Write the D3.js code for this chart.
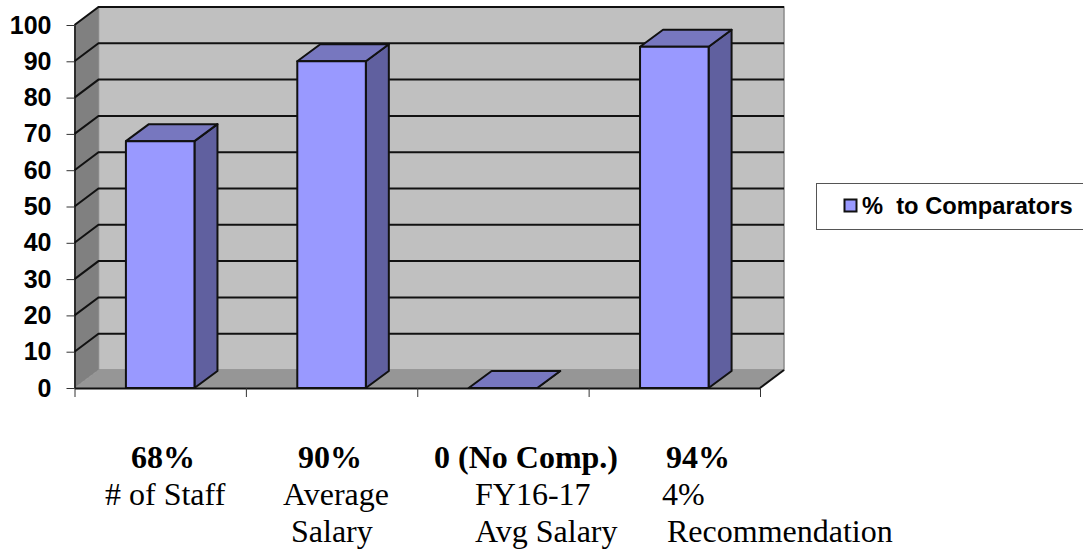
<!DOCTYPE html>
<html>
<head>
<meta charset="utf-8">
<script src="https://cdn.jsdelivr.net/npm/d3@7/dist/d3.min.js"></script>
<style>
  html, body { margin: 0; padding: 0; background: #fff; }
  svg { display: block; }
</style>
</head>
<body>
<svg id="chart" width="1083" height="552"></svg>
<script>
// Chart data
const categories = ["# of Staff", "Average Salary", "FY16-17 Avg Salary", "4% Recommendation"];
const values = [68, 90, 0, 94];
const yTicks = [0, 10, 20, 30, 40, 50, 60, 70, 80, 90, 100];
const seriesName = "%  to Comparators";
const headlineLabels = ["68%", "90%", "0 (No Comp.)", "94%"];
const captionLines = [["# of Staff"], ["Average", "Salary"], ["FY16-17", "Avg Salary"], ["4%", "Recommendation"]];

// Left edges of the caption block under each category
const headlineX = [131, 298, 434, 666];
const captionX = [[105], [283, 291], [475, 475], [662, 667]];

const svg = d3.select("#chart");

// Front plane of the pseudo-3D plot and its depth offset
const plotLeft = 74.5, plotRight = 760, plotBottom = 388, plotTop = 25;
const depthX = 24, depthY = -18;
const barDepthX = 23, barDepthY = -17;

const x = d3.scaleBand().domain(categories).range([plotLeft, plotRight]).paddingInner(0.6).paddingOuter(0.3);
const y = d3.scaleLinear().domain([0, 100]).range([plotBottom, plotTop]);
const edges = d3.scaleLinear().domain([0, categories.length]).range([plotLeft, plotRight]);

const poly = pts => pts.map(p => p.join(",")).join(" ");
const ink = "#111";

// Back wall, side wall and floor
svg.append("polygon")
  .attr("points", poly([[plotLeft + depthX, plotTop + depthY], [plotRight + depthX, plotTop + depthY], [plotRight + depthX, plotBottom + depthY], [plotLeft + depthX, plotBottom + depthY]]))
  .attr("fill", "#c0c0c0").attr("stroke", "#8a8a8a").attr("stroke-width", 1.5);
svg.append("polygon")
  .attr("points", poly([[plotLeft, plotTop], [plotLeft + depthX, plotTop + depthY], [plotLeft + depthX, plotBottom + depthY], [plotLeft, plotBottom]]))
  .attr("fill", "#808080").attr("stroke", "#8a8a8a").attr("stroke-width", 1);
svg.append("polygon")
  .attr("points", poly([[plotLeft, plotBottom], [plotLeft + depthX, plotBottom + depthY], [plotRight + depthX, plotBottom + depthY], [plotRight, plotBottom]]))
  .attr("fill", "#969696");
svg.append("line")
  .attr("x1", plotRight).attr("y1", plotBottom).attr("x2", plotRight + depthX).attr("y2", plotBottom + depthY)
  .attr("stroke", ink).attr("stroke-width", 2);

// Gridlines run along the back wall, then slant down the side wall
svg.append("g").selectAll("polyline")
  .data(yTicks.filter(d => d > 0))
  .join("polyline")
  .attr("points", d => poly([[plotLeft, y(d)], [plotLeft + depthX, y(d) + depthY], [plotRight + depthX, y(d) + depthY]]))
  .attr("fill", "none").attr("stroke", ink).attr("stroke-width", 2);

// Value axis
const yAxis = svg.append("g")
  .attr("transform", `translate(${plotLeft},0)`)
  .call(d3.axisLeft(y).tickValues(yTicks).tickSize(8).tickSizeOuter(0).tickPadding(15).tickFormat(d3.format("d")));
yAxis.select(".domain").attr("stroke", ink).attr("stroke-width", 1.5);
yAxis.selectAll(".tick line").attr("stroke", "#333").attr("stroke-width", 1);
yAxis.selectAll(".tick text")
  .attr("font-family", "'Liberation Sans', sans-serif")
  .attr("font-weight", "bold").attr("font-size", 25).attr("fill", "#000");

// Category axis: ticks fall on the band edges
const xAxis = svg.append("g")
  .attr("transform", `translate(0,${plotBottom})`)
  .call(d3.axisBottom(edges).tickValues(d3.range(categories.length + 1)).tickSize(9).tickSizeOuter(0).tickFormat(""));
xAxis.select(".domain").attr("stroke", ink).attr("stroke-width", 2);
xAxis.selectAll(".tick line").attr("stroke", "#333").attr("stroke-width", 1);

// Bars: front face, right side and top
const bars = svg.append("g").selectAll("g")
  .data(categories.map((c, i) => ({ c, v: values[i] })))
  .join("g");
const barStyle = s => s.attr("stroke", ink).attr("stroke-width", 2).attr("stroke-linejoin", "round");

bars.append("polygon")
  .attr("points", d => {
    const x1 = x(d.c) + x.bandwidth();
    return poly([[x1, y(d.v)], [x1 + barDepthX, y(d.v) + barDepthY], [x1 + barDepthX, plotBottom + barDepthY], [x1, plotBottom]]);
  })
  .attr("fill", "#60609f").call(barStyle);
bars.append("polygon")
  .attr("points", d => {
    const x0 = x(d.c), x1 = x0 + x.bandwidth();
    return poly([[x0, y(d.v)], [x0 + barDepthX, y(d.v) + barDepthY], [x1 + barDepthX, y(d.v) + barDepthY], [x1, y(d.v)]]);
  })
  .attr("fill", "#7777bf").call(barStyle);
bars.filter(d => d.v > 0).append("rect")
  .attr("x", d => x(d.c)).attr("y", d => y(d.v))
  .attr("width", x.bandwidth()).attr("height", d => plotBottom - y(d.v))
  .attr("fill", "#9999ff").call(barStyle);

// Legend
const legend = svg.append("g");
legend.append("rect")
  .attr("x", 816.5).attr("y", 183.5).attr("width", 270).attr("height", 46)
  .attr("fill", "#fff").attr("stroke", "#555").attr("stroke-width", 1);
legend.append("rect")
  .attr("x", 844.5).attr("y", 199.5).attr("width", 12).attr("height", 12)
  .attr("fill", "#9999ff").attr("stroke", ink).attr("stroke-width", 2);
legend.append("text")
  .attr("x", 862).attr("y", 214)
  .attr("font-family", "'Liberation Sans', sans-serif")
  .attr("font-weight", "bold").attr("font-size", 23.7)
  .style("white-space", "pre")
  .text(seriesName);

// Captions under the plot
const serif = "'Liberation Serif', serif";
svg.append("g").selectAll("text")
  .data(headlineLabels)
  .join("text")
  .attr("x", (d, i) => headlineX[i]).attr("y", 468)
  .attr("font-family", serif).attr("font-weight", "bold").attr("font-size", 32)
  .text(d => d);
captionLines.forEach((lines, i) => {
  svg.append("g").selectAll("text")
    .data(lines)
    .join("text")
    .attr("x", (d, j) => captionX[i][j]).attr("y", (d, j) => 505 + j * 36.5)
    .attr("font-family", serif).attr("font-size", 32)
    .text(d => d);
});
</script>
</body>
</html>
